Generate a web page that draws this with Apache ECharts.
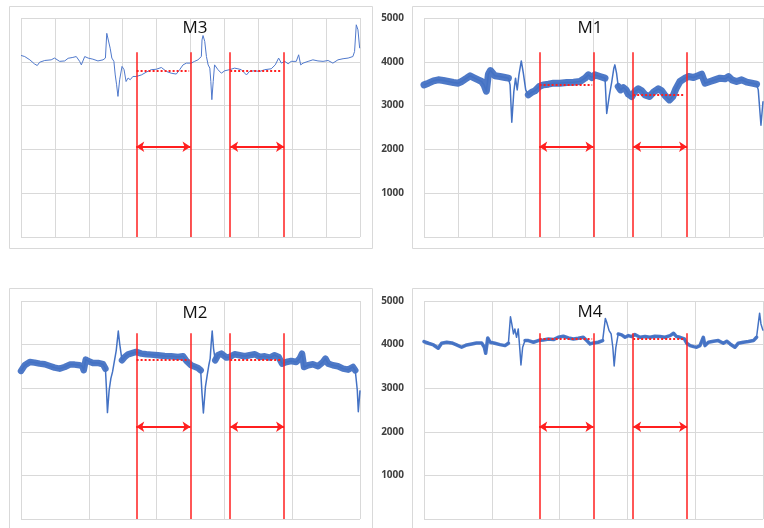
<!DOCTYPE html>
<html>
<head>
<meta charset="utf-8">
<script src="https://cdn.jsdelivr.net/npm/echarts@6/dist/echarts.min.js"></script>
<style>
  html, body { margin: 0; padding: 0; background: #fff; }
  #chart { width: 764px; height: 528px; }
</style>
</head>
<body>
<div id="chart"></div>
<script>
// traces, x in 0..100 (sample index), y in 0..5000
const m3Trace = [[0,4145],[1.1,4120],[2.6,4045],[4.0,3950],[4.8,3915],[5.5,3990],[7.0,4030],[8.9,4045],[9.9,4085],[11.4,4010],[12.9,4020],[13.9,4080],[15.3,4100],[16.3,4120],[17.3,4010],[17.8,3930],[18.8,4120],[19.8,4085],[21.2,4060],[22.7,4020],[24.2,4045],[24.9,4085],[25.3,4650],[25.7,4615],[26.3,4310],[26.8,4085],[27.4,4010],[27.8,3700],[28.2,3475],[28.6,3210],[29.1,3590],[29.8,3895],[30.4,3820],[31.0,3550],[31.6,3630],[32.2,3590],[33.0,3665],[34.0,3665],[35.5,3700],[37.0,3765],[38.4,3820],[39.9,3830],[41.4,3870],[42.9,3780],[44.3,3740],[45.8,3720],[46.8,3820],[47.8,3930],[48.8,3970],[50.2,3970],[51.2,4010],[52.2,4045],[53.2,4120],[53.4,4500],[53.7,4600],[54.2,4465],[54.7,4120],[55.2,3930],[55.7,3855],[56.0,3550],[56.3,3135],[56.7,3550],[57.1,3930],[57.6,3970],[58.1,3820],[59.1,3740],[60.1,3795],[61.5,3820],[63.0,3855],[64.0,3840],[65.0,3820],[66.5,3700],[67.4,3780],[68.9,3795],[70.4,3780],[71.9,3820],[73.8,3840],[75.0,3930],[76.0,4085],[76.8,3970],[77.8,4010],[78.8,3955],[79.7,4010],[81.2,4010],[81.9,4160],[82.5,3930],[83.2,3970],[84.7,4010],[86.1,4045],[87.6,4020],[89.1,4010],[90.6,4030],[92.0,3970],[93.5,4045],[95.0,4070],[96.5,4085],[97.9,4120],[98.4,4235],[98.9,4845],[99.4,4730],[99.9,4310]];

const m1Trace = [[0,3473],[1.3,3512],[2.8,3565],[4.2,3588],[5.7,3573],[7.2,3550],[8.7,3527],[10.1,3512],[11.1,3550],[12.6,3626],[13.6,3680],[14.6,3641],[16.0,3588],[17.0,3550],[17.7,3473],[18.4,3330],[19.0,3718],[19.6,3800],[20.9,3680],[22.4,3664],[23.9,3641],[24.9,3626],[25.4,3473],[25.9,2620],[26.5,3321],[27.0,3626],[27.5,3359],[28.0,3702],[28.7,4020],[29.3,3740],[30.0,3359],[30.8,3245],[31.8,3306],[32.7,3336],[34.0,3435],[35.2,3473],[36.7,3489],[38.2,3512],[40.1,3512],[42.1,3527],[44.1,3535],[46.0,3550],[47.5,3626],[48.5,3702],[49.5,3641],[50.4,3702],[51.9,3664],[53.4,3626],[53.9,2820],[54.7,3245],[55.4,3550],[56.0,3855],[56.3,3930],[56.8,3740],[57.3,3435],[58.0,3359],[58.8,3412],[59.6,3359],[60.3,3260],[61.3,3207],[62.2,3321],[63.2,3382],[64.2,3336],[65.2,3245],[66.5,3207],[67.7,3306],[69.1,3382],[70.1,3336],[71.1,3230],[72.4,3130],[73.4,3207],[74.3,3382],[75.5,3550],[77.0,3626],[78.0,3664],[79.5,3641],[81.0,3687],[81.9,3718],[82.9,3512],[84.4,3550],[85.8,3588],[87.3,3626],[88.8,3611],[89.8,3664],[90.8,3588],[92.2,3550],[93.7,3588],[95.2,3535],[96.7,3512],[98.1,3489],[98.6,3359],[99.4,2550],[100,3100]];

const m2Trace = [[0,3396],[1.1,3526],[2.6,3602],[4.0,3587],[5.5,3564],[7.0,3549],[8.5,3510],[9.9,3472],[11.4,3449],[12.9,3487],[14.4,3541],[15.8,3541],[17.3,3526],[18.1,3503],[18.5,3411],[19.1,3656],[19.8,3625],[21.2,3579],[22.7,3579],[24.2,3549],[24.9,3449],[25.2,3000],[25.5,2440],[26.0,2952],[26.5,3220],[27.0,3373],[27.5,3334],[28.1,3870],[28.7,4310],[29.1,4023],[29.8,3640],[30.6,3717],[31.6,3778],[33.0,3809],[34.0,3832],[35.5,3793],[37.0,3778],[38.4,3770],[40.4,3755],[42.4,3740],[44.3,3732],[46.3,3717],[47.8,3732],[48.8,3625],[50.2,3526],[50.7,3487],[52.2,3464],[53.0,3411],[53.4,2875],[53.8,2430],[54.4,3028],[55.0,3334],[55.4,3526],[55.8,3679],[56.1,4023],[56.4,4310],[56.8,3908],[57.3,3640],[58.1,3755],[59.1,3793],[60.6,3702],[61.6,3717],[63.0,3778],[64.5,3755],[66.0,3732],[67.4,3755],[69.0,3778],[70.4,3717],[71.9,3732],[73.4,3702],[74.8,3755],[76.0,3717],[77.0,3564],[78.3,3602],[79.7,3625],[81.2,3602],[82.2,3679],[82.9,3793],[83.5,3487],[84.7,3526],[86.1,3549],[87.6,3503],[89.1,3602],[89.8,3679],[90.6,3564],[92.0,3526],[93.5,3503],[95.0,3449],[96.5,3426],[97.9,3487],[98.6,3411],[99.2,2952],[99.5,2460],[100,2950]];

const m4Trace = [[0,4069],[1.3,4031],[2.8,3992],[4.2,3916],[5.2,4031],[6.7,4054],[8.2,4038],[9.6,3992],[11.1,3939],[12.6,3992],[14.1,4015],[15.5,4038],[17.0,4038],[17.8,3939],[18.2,3801],[18.8,4153],[19.5,4054],[20.9,4031],[22.4,4000],[23.9,3977],[24.9,4031],[25.5,4640],[25.9,4474],[26.4,4245],[26.8,4360],[27.3,4168],[27.8,4360],[28.3,3862],[28.6,3532],[29.1,3939],[29.8,4092],[30.8,4092],[32.3,4054],[33.7,4092],[35.2,4107],[36.7,4130],[38.2,4115],[39.6,4168],[41.1,4191],[42.6,4153],[44.1,4130],[45.5,4145],[47.0,4168],[48.0,4092],[49.0,4015],[50.0,4038],[51.4,4054],[52.7,4092],[53.5,4600],[53.9,4512],[54.6,4321],[55.2,4245],[55.7,3939],[56.1,3509],[56.6,3939],[57.3,4245],[58.3,4222],[59.3,4168],[60.3,4207],[61.3,4184],[62.2,4230],[63.7,4168],[65.2,4184],[66.7,4168],[68.1,4191],[69.6,4184],[71.1,4168],[72.6,4207],[73.6,4260],[74.5,4184],[75.5,4168],[76.8,4130],[77.5,4031],[78.5,3977],[79.5,3954],[80.4,3939],[81.4,3977],[82.4,4168],[82.9,3977],[83.9,4054],[85.4,4077],[86.8,4092],[88.3,4031],[89.3,4077],[90.3,4015],[91.7,3939],[92.7,4031],[94.2,4054],[95.7,4069],[97.2,4092],[98.1,4168],[99.0,4720],[99.4,4474],[100,4321]];

// x ranges where the trace is a thin transient, not the noisy band
const m1Spikes = [[25.2, 30.4], [53.6, 57.1], [98.4, 100]];
const m2Spikes = [[25.0, 29.6], [53.1, 57.2], [98.8, 100]];
const m4Spikes = [[25.2, 29.6], [53.2, 57.1], [98.5, 100]];

const titles = ['M3', 'M1', 'M2', 'M4'];
const cursorX = [34, 50, 61.7, 77.6];
const cursorTop = [4220, 4220, 4260, 4260];
const arrowLevel = [2060, 2060, 2115, 2115];
const dotLevels = [[3805, 3805], [3485, 3255], [3660, 3660], [4135, 4135]];
const dotSpans = [[34.1, 49.6], [61.7, 77.0]];

// layout and styles
const panels = [
  { trace: m3Trace, spikes: [], band: 0, box: [9.5, 6.5, 363, 242], grid: { left: 21, top: 18, width: 339, height: 219 }, labels: false, xStep: 10, title: [195, 28] },
  { trace: m1Trace, spikes: m1Spikes, band: 7, box: [412.5, 6.5, 400, 242], grid: { left: 424, top: 18, width: 339, height: 219 }, labels: true, xStep: 10, title: [590, 28] },
  { trace: m2Trace, spikes: m2Spikes, band: 6.5, box: [9.5, 288.5, 363, 300], grid: { left: 21, top: 301, width: 339, height: 218 }, labels: false, xStep: 20, title: [195, 313] },
  { trace: m4Trace, spikes: m4Spikes, band: 3.5, box: [412.5, 288.5, 400, 300], grid: { left: 424, top: 301, width: 339, height: 218 }, labels: true, xStep: 20, title: [590, 312] },
];

const blue = '#4472C4';
const red = '#ff1f1f';
const gridColor = '#d9d9d9';

const chart = echarts.init(document.getElementById('chart'));

const inSpike = (x, spikes) => spikes.some(([a, b]) => x > a && x < b);

const grids = [], xAxes = [], yAxes = [], series = [], graphics = [];

panels.forEach((p, i) => {
  grids.push(p.grid);
  xAxes.push({
    type: 'value', gridIndex: i, min: 0, max: 100, interval: p.xStep,
    axisLine: { show: false }, axisTick: { show: false }, axisLabel: { show: false },
    splitLine: { show: true, lineStyle: { color: gridColor, width: 1 } },
  });
  yAxes.push({
    type: 'value', gridIndex: i, min: 0, max: 5000, interval: 1000,
    axisLine: { show: false }, axisTick: { show: false },
    axisLabel: {
      show: p.labels, margin: 20, color: '#404040', fontSize: 10, fontWeight: 'bold',
      fontFamily: 'Open Sans',
      formatter: (v) => (v === 0 ? '' : String(v)),
    },
    splitLine: { show: true, lineStyle: { color: gridColor, width: 1 } },
  });

  // noisy band (thick) drawn under the thin trace
  if (p.band > 0) {
    series.push({
      type: 'line', xAxisIndex: i, yAxisIndex: i, z: 2,
      showSymbol: false, silent: true, connectNulls: false,
      lineStyle: { color: blue, width: p.band, opacity: 0.95, join: 'round', cap: 'round' },
      data: p.trace.map(([x, y]) => (inSpike(x, p.spikes) ? [x, '-'] : [x, y])),
    });
  }

  const marks = [];
  cursorX.forEach((x) => {
    marks.push([{ coord: [x, 0], symbol: 'none', lineStyle: { color: red, width: 1.5, type: 'solid' } }, { coord: [x, cursorTop[i]], symbol: 'none' }]);
  });
  for (let k = 0; k < 2; k++) {
    const a = cursorX[k * 2], b = cursorX[k * 2 + 1];
    marks.push([{ coord: [a, arrowLevel[i]], symbol: 'arrow', lineStyle: { color: red, width: 2, type: 'solid' } }, { coord: [b, arrowLevel[i]], symbol: 'arrow' }]);
    marks.push([{ coord: [dotSpans[k][0], dotLevels[i][k]], symbol: 'none', lineStyle: { color: red, width: 2, type: [2, 2] } }, { coord: [dotSpans[k][1], dotLevels[i][k]], symbol: 'none' }]);
  }

  series.push({
    type: 'line', xAxisIndex: i, yAxisIndex: i, z: 3,
    showSymbol: false, silent: true,
    lineStyle: { color: p.band > 0 ? blue : '#5079cc', width: p.band > 0 ? 1.5 : 1, join: 'round' },
    data: p.trace,
    markLine: {
      silent: true, symbol: 'none', symbolSize: [8, 8],
      label: { show: false }, emphasis: { disabled: true },
      animation: false,
      data: marks,
    },
  });

  graphics.push({
    type: 'rect', z: 0, silent: true,
    shape: { x: p.box[0], y: p.box[1], width: p.box[2], height: p.box[3] },
    style: { fill: 'none', stroke: gridColor, lineWidth: 1 },
  });
  graphics.push({
    type: 'text', z: 10, silent: true, x: p.title[0], y: p.title[1],
    style: {
      text: titles[i], textAlign: 'center', textVerticalAlign: 'middle',
      font: '17px "Open Sans"', fill: '#111',
    },
  });
});

chart.setOption({
  animation: false,
  backgroundColor: '#fff',
  grid: grids,
  xAxis: xAxes,
  yAxis: yAxes,
  series: series,
  graphic: graphics,
});
</script>
</body>
</html>
